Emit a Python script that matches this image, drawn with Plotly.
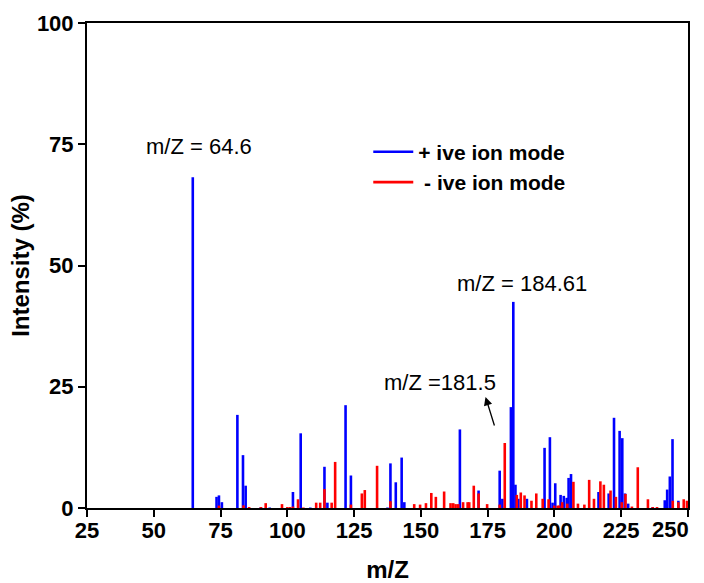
import plotly.graph_objects as go

# Positive ion mode (blue)
pos_mz = [64.6, 73.5, 74.4, 75.5, 81.3, 83.4, 84.4, 90.1, 93.4, 102.1, 105.0, 108.6, 113.9, 115.0,
          121.8, 123.8, 137.5, 138.6, 140.6, 142.8, 143.8, 164.6, 171.6, 179.5, 180.5, 183.7, 184.6,
          185.4, 186.5, 189.7, 196.3, 198.3, 199.3, 200.3, 202.3, 203.5, 204.6, 205.3, 206.2, 216.5,
          220.3, 222.3, 224.4, 225.4, 226.4, 227.6, 236.8, 241.3, 242.2, 243.2, 244.2, 246.4]
pos_int = [68.2, 2.3, 2.6, 1.2, 19.2, 10.9, 4.6, 0.2, 0.1, 3.3, 15.4, 0.1, 8.5, 1.1,
           21.2, 6.7, 0.1, 9.2, 5.3, 10.4, 1.2, 16.2, 3.6, 7.7, 1.9, 20.8, 42.5,
           4.8, 1.9, 1.9, 12.4, 14.6, 1.1, 5.1, 2.7, 2.5, 2.1, 6.2, 7.0, 3.3,
           3.0, 18.6, 15.9, 14.4, 3.0, 0.9, 0.2, 1.6, 3.8, 6.5, 14.2, 1.5]

# Negative ion mode (red)
neg_mz = [74.4, 83.6, 85.7, 90.1, 91.9, 98.0, 100.0, 101.0, 102.1, 104.0, 106.0, 110.8, 112.3, 113.9,
          116.6, 117.9, 123.8, 127.9, 129.0, 133.6, 138.6, 147.5, 149.7, 151.9, 153.9, 155.6, 158.7,
          161.1, 162.1, 163.0, 164.0, 165.8, 167.5, 168.1, 169.8, 171.6, 174.8, 179.5, 181.4, 185.9,
          187.4, 188.8, 191.4, 193.2, 195.6, 197.8, 199.9, 201.2, 201.8, 202.9, 204.8, 207.1, 208.8,
          211.2, 213.0, 214.8, 217.2, 218.5, 221.0, 223.0, 225.2, 226.6, 229.0, 231.2, 235.0, 236.8,
          238.4, 244.3, 246.4, 248.4, 249.6]
neg_int = [0.5, 0.55, 0.2, 0.2, 1.0, 0.8, 0.2, 0.2, 0.3, 1.8, 0.1, 1.1, 1.1, 3.9,
           1.1, 9.5, 0.7, 3.0, 3.7, 8.7, 1.4, 0.8, 0.7, 1.0, 3.1, 2.3, 3.4,
           1.0, 1.0, 0.8, 0.8, 1.2, 1.2, 1.2, 4.6, 3.0, 0.8, 0.7, 13.4, 2.7,
           3.2, 2.6, 1.5, 3.0, 1.9, 1.8, 0.5, 0.5, 0.5, 1.2, 0.9, 5.4, 0.9,
           0.7, 5.8, 1.9, 5.5, 4.8, 3.6, 2.3, 1.2, 2.9, 0.3, 8.4, 1.8, 0.2,
           0.2, 1.5, 1.2, 1.8, 1.5]

x_ticks = [25, 50, 75, 100, 125, 150, 175, 200, 225, 250]
x_tick_labels = ["25", "50", "75", "100", "125", "150", "175", "200", "225", ""]
last_x_label = "250"  # drawn right-aligned at the axis end so it stays inside the page
y_ticks = [0, 25, 50, 75, 100]


def stems(xs, ys):
    sx, sy = [], []
    for x, y in zip(xs, ys):
        sx += [x, x, None]
        sy += [0, y, None]
    return sx, sy


FONT = "Liberation Sans, Arial, sans-serif"

fig = go.Figure()
px_, py_ = stems(pos_mz, pos_int)
nx_, ny_ = stems(neg_mz, neg_int)
fig.add_trace(go.Scatter(x=px_, y=py_, mode="lines", name="+ ive ion mode",
                         line=dict(color="#0000ff", width=2.6), legendgroup="a"))
fig.add_trace(go.Scatter(x=nx_, y=ny_, mode="lines", name=" - ive ion mode",
                         line=dict(color="#ff0000", width=2.6), legendgroup="b"))

axis_common = dict(
    showline=True, linecolor="black", linewidth=2, mirror=True,
    ticks="outside", ticklen=7, tickwidth=2, tickcolor="black",
    showgrid=False, zeroline=False, automargin=False,
    tickfont=dict(family=FONT, size=22, color="black", weight="bold"),
)

fig.update_xaxes(range=[25, 250], tickvals=x_ticks, ticktext=x_tick_labels, ticklabelstandoff=-5,
                 title=dict(text="<b>m/Z</b>", font=dict(family=FONT, size=24, color="black"), standoff=22),
                 **axis_common)
fig.update_yaxes(range=[0, 100], tickvals=y_ticks, ticktext=[str(t) for t in y_ticks],
                 title=dict(text="<b>Intensity (%)</b>", font=dict(family=FONT, size=24, color="black"), standoff=0),
                 **axis_common)

fig.add_annotation(x=x_ticks[-1], y=0, xref="x", yref="y", text="<b>" + last_x_label + "</b>",
                   showarrow=False, xanchor="right", yanchor="middle", xshift=3, yshift=-21,
                   font=dict(family=FONT, size=22, color="black"))

ann_font = dict(family=FONT, size=22, color="black")
fig.add_annotation(x=66.9, y=74.6, text="m/Z = 64.6", showarrow=False, font=ann_font)
fig.add_annotation(x=187.8, y=46.2, text="m/Z = 184.61", showarrow=False, font=ann_font)
fig.add_annotation(x=157.1, y=25.8, text="m/Z =181.5", showarrow=False, font=ann_font)
fig.add_annotation(x=174.2, y=22.9, ax=177.7, ay=16.7, axref="x", ayref="y", xref="x", yref="y",
                   text="", showarrow=True, arrowhead=2, arrowsize=1.3, arrowwidth=1.3, arrowcolor="black")

fig.update_layout(
    width=704, height=583,
    margin=dict(l=87, r=16, t=23, b=75),
    plot_bgcolor="white", paper_bgcolor="white",
    showlegend=True,
    legend=dict(x=0.468, y=0.776, xanchor="left", yanchor="top", itemwidth=40,
                font=dict(family=FONT, size=21, color="black", weight="bold"),
                bgcolor="rgba(0,0,0,0)", tracegroupgap=0),
)

fig.write_html("out.html")
